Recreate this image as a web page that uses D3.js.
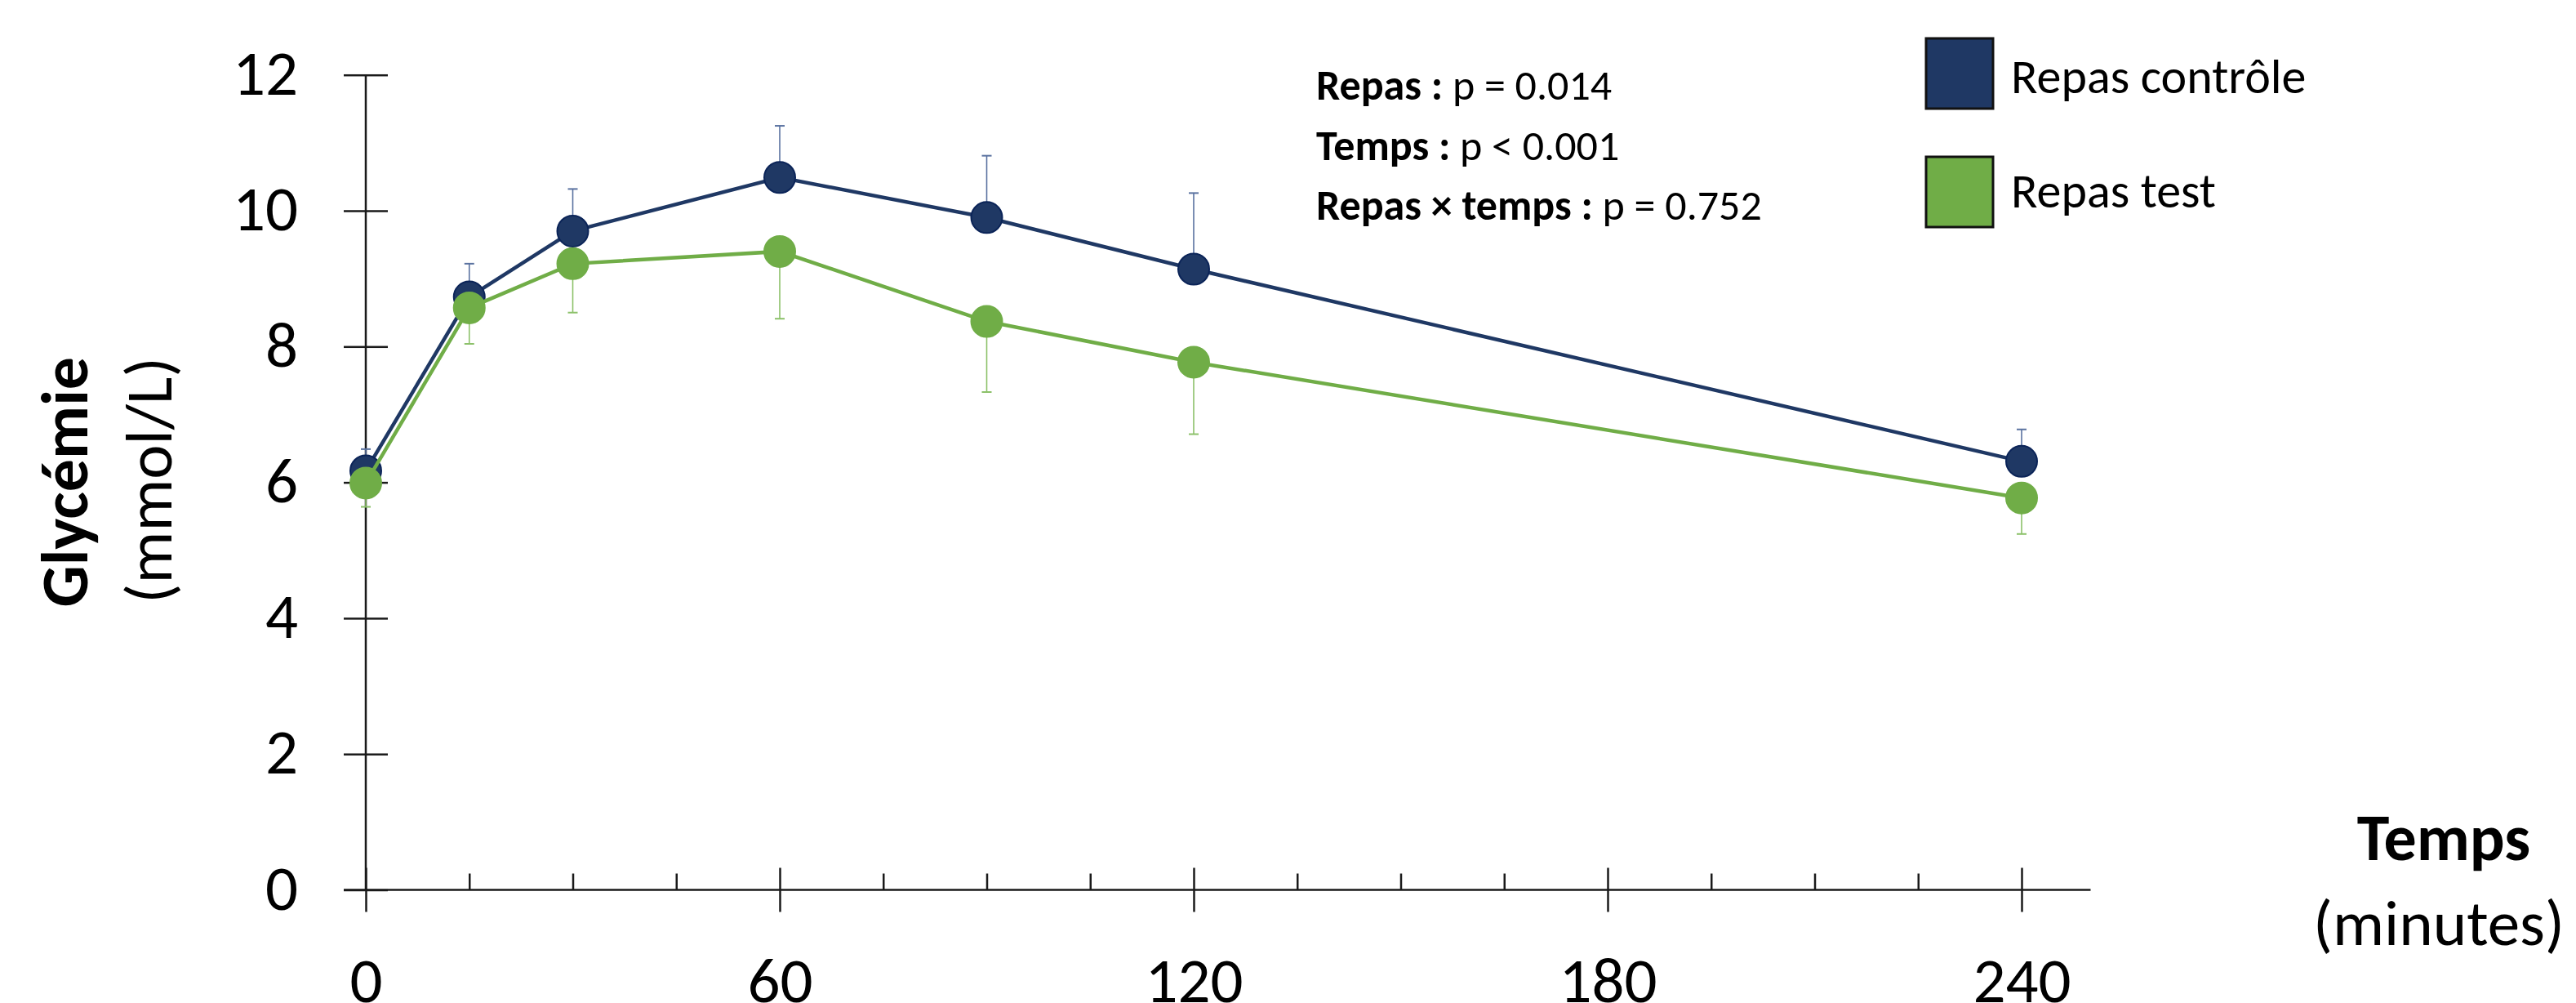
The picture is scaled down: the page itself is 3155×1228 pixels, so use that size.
<!DOCTYPE html>
<html lang="fr">
<head>
  <meta charset="UTF-8">
  <title>Glycémie - repas contrôle vs repas test</title>
  <script src="https://d3js.org/d3.v7.min.js"></script>
  <style>
    body {
      margin: 0;
      padding: 0;
      background: #fff;
      font-family: Carlito, Lato, "Open Sans", sans-serif;
      overflow: hidden;
    }
    .axis path, .axis line {
      stroke: #1a1a1a;
      stroke-width: 2.5;
    }
    .axis text {
      fill: #000;
      font-family: Carlito, Lato, sans-serif;
      font-size: 79px;
    }
  </style>
</head>
<body>
  <svg id="chart" width="3155" height="1228"></svg>

  <script>
    // data
    const times = [0, 15, 30, 60, 90, 120, 240];
    const controle = [6.17, 8.73, 9.70, 10.49, 9.90, 9.14, 6.31];
    const controleErr = [0.32, 0.49, 0.62, 0.76, 0.91, 1.12, 0.47]; // upward SD
    const test = [5.99, 8.57, 9.22, 9.40, 8.37, 7.77, 5.77];
    const testErr = [0.35, 0.53, 0.72, 0.99, 1.04, 1.06, 0.53]; // downward SD
    const xMajor = [0, 60, 120, 180, 240];
    const xMinor = [15, 30, 45, 75, 90, 105, 135, 150, 165, 195, 210, 225];
    const yTicks = [0, 2, 4, 6, 8, 10, 12];
    const stats = [
      ["Repas : ", "p = 0.014"],
      ["Temps : ", "p < 0.001"],
      ["Repas × temps : ", "p = 0.752"]
    ];
    const legendItems = ["Repas contrôle", "Repas test"];

    const navy = "#1f3864";
    const green = "#70ad47";

    const svg = d3.select("#chart");

    const x = d3.scaleLinear().domain([0, 250]).range([448, 2560.5]);
    const y = d3.scaleLinear().domain([0, 12]).range([1089.5, 91.7]);

    // y axis, ticks crossing the line
    svg.append("g")
      .attr("class", "axis")
      .attr("transform", `translate(${x(0)},0)`)
      .call(d3.axisLeft(y).tickValues(yTicks).tickSize(27).tickSizeOuter(0).tickPadding(56).tickFormat(d3.format("d")))
      .call(g => g.select(".domain").remove())
      .call(g => g.selectAll("text").attr("dy", "0.3em"));
    svg.append("g")
      .attr("class", "axis")
      .attr("transform", `translate(${x(0)},0)`)
      .call(d3.axisRight(y).tickValues(yTicks).tickSize(27).tickSizeOuter(0).tickFormat(""))
      .call(g => g.select(".domain").remove());
    svg.append("line")
      .attr("x1", x(0)).attr("x2", x(0))
      .attr("y1", y(12)).attr("y2", y(0))
      .attr("stroke", "#1a1a1a").attr("stroke-width", 2.5);

    // x axis
    svg.append("g")
      .attr("class", "axis")
      .attr("transform", `translate(0,${y(0)})`)
      .call(d3.axisBottom(x).tickValues(xMajor).tickSize(27).tickSizeOuter(0).tickPadding(54).tickFormat(d3.format("d")))
      .call(g => g.select(".domain").remove())
      .call(g => g.selectAll("text").attr("dy", "0.72em"));
    svg.append("g")
      .attr("class", "axis")
      .attr("transform", `translate(0,${y(0)})`)
      .call(d3.axisTop(x).tickValues(xMajor).tickSize(27).tickSizeOuter(0).tickFormat(""))
      .call(g => g.select(".domain").remove());
    svg.append("g")
      .attr("class", "axis")
      .attr("transform", `translate(0,${y(0)})`)
      .call(d3.axisTop(x).tickValues(xMinor).tickSize(20).tickSizeOuter(0).tickFormat(""))
      .call(g => g.select(".domain").remove());
    svg.append("line")
      .attr("x1", x(0) - 27).attr("x2", x(250))
      .attr("y1", y(0)).attr("y2", y(0))
      .attr("stroke", "#1a1a1a").attr("stroke-width", 2.5);

    const line = d3.line().x(d => x(d.t)).y(d => y(d.v));

    function drawSeries(values, errs, dir, color, errColor, stroke) {
      const data = times.map((t, i) => ({ t, v: values[i], e: errs[i] }));
      const g = svg.append("g");

      g.append("path")
        .datum(data)
        .attr("d", line)
        .attr("fill", "none")
        .attr("stroke", color)
        .attr("stroke-width", 4.5);

      g.selectAll(".err")
        .data(data)
        .enter().append("line")
        .attr("x1", d => x(d.t)).attr("x2", d => x(d.t))
        .attr("y1", d => y(d.v)).attr("y2", d => y(d.v + dir * d.e))
        .attr("stroke", errColor).attr("stroke-width", 1.6);

      g.selectAll(".cap")
        .data(data)
        .enter().append("line")
        .attr("x1", d => x(d.t) - 6).attr("x2", d => x(d.t) + 6)
        .attr("y1", d => y(d.v + dir * d.e)).attr("y2", d => y(d.v + dir * d.e))
        .attr("stroke", errColor).attr("stroke-width", 2);

      g.selectAll("circle")
        .data(data)
        .enter().append("circle")
        .attr("cx", d => x(d.t))
        .attr("cy", d => y(d.v))
        .attr("r", 19)
        .attr("fill", color)
        .attr("stroke", stroke)
        .attr("stroke-width", 2);
    }

    drawSeries(controle, controleErr, 1, navy, "#5a72a0", "#0b2458");
    drawSeries(test, testErr, -1, green, "#8cc16a", green);

    // stats annotation
    const ann = svg.append("g").attr("font-size", 52).attr("fill", "#000");
    stats.forEach((s, i) => {
      const t = ann.append("text").attr("x", 1612).attr("y", 122 + i * 73.5);
      t.append("tspan").attr("font-weight", "bold").text(s[0]);
      t.append("tspan").text(s[1]);
    });

    // legend
    const legend = svg.append("g");
    legendItems.forEach((name, i) => {
      legend.append("rect")
        .attr("x", 2359).attr("y", 47 + i * 145)
        .attr("width", 82).attr("height", 86)
        .attr("fill", i === 0 ? navy : green)
        .attr("stroke", "#111").attr("stroke-width", 3);
      legend.append("text")
        .attr("x", 2463).attr("y", 114 + i * 140)
        .attr("font-size", 60)
        .text(name);
    });

    // axis titles
    svg.append("text")
      .attr("transform", "translate(107,590) rotate(-90)")
      .attr("text-anchor", "middle")
      .attr("font-weight", "bold")
      .attr("font-size", 80)
      .text("Glycémie");
    svg.append("text")
      .attr("transform", "translate(210,588) rotate(-90)")
      .attr("text-anchor", "middle")
      .attr("font-size", 80)
      .text("(mmol/L)");
    svg.append("text")
      .attr("x", 2993).attr("y", 1053)
      .attr("text-anchor", "middle")
      .attr("font-weight", "bold")
      .attr("font-size", 80)
      .text("Temps");
    svg.append("text")
      .attr("x", 2833).attr("y", 1157)
      .attr("font-size", 79)
      .text("(minutes)");
  </script>
</body>
</html>
